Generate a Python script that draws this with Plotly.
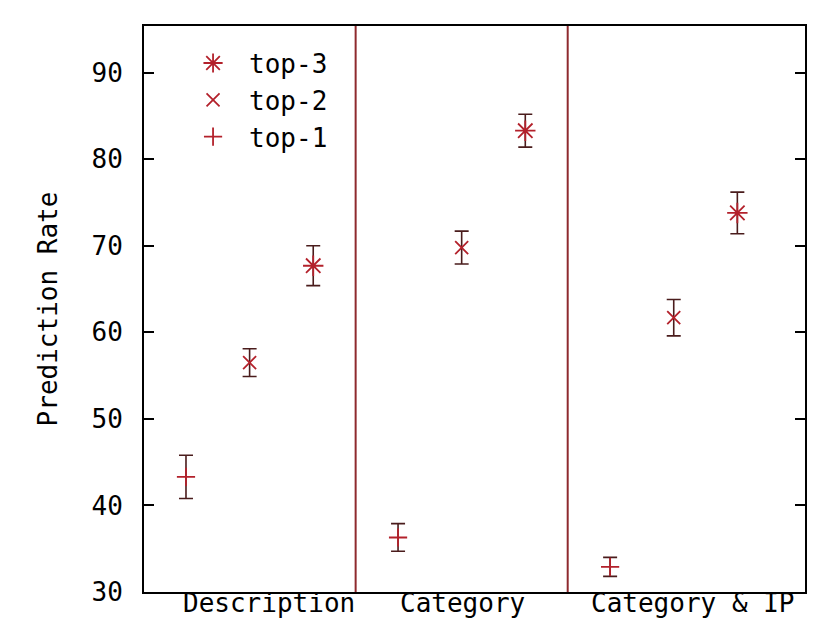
import plotly.graph_objects as go

groups = ["Description", "Category", "Category & IP"]
series = ["top-1", "top-2", "top-3"]
top1 = [43.3, 36.3, 32.9]
top1_err = [2.5, 1.6, 1.1]
top2 = [56.5, 69.8, 61.7]
top2_err = [1.6, 1.9, 2.1]
top3 = [67.7, 83.3, 73.8]
top3_err = [2.3, 1.9, 2.4]
y_ticks = [30, 40, 50, 60, 70, 80, 90]

values = [top1, top2, top3]
errors = [top1_err, top2_err, top3_err]
symbols = ["cross-thin-open", "x-thin-open", "asterisk-open"]
msizes = [13, 13, 17]

GROUP_STEP = 10 / 3
marker_color = "#b3212b"
err_color = "#4a1c1c"
sep_color = "#8e2a2e"
FONT = "DejaVu Sans Mono"
FS = 26
label_pos = [1.3, 4.35, 7.97]

fig = go.Figure()
for k, name in enumerate(series):
    xs = [g * GROUP_STEP + k for g in range(len(groups))]
    fig.add_trace(go.Scatter(
        x=xs, y=values[k], mode="markers", name=name,
        marker=dict(symbol=symbols[k], size=msizes[k], color=marker_color,
                    line=dict(width=1.8, color=marker_color)),
        error_y=dict(type="data", array=errors[k], visible=True,
                     color=err_color, thickness=1.6, width=7),
    ))

for g in range(1, len(groups)):
    fig.add_vline(x=g * GROUP_STEP - 2 / 3, line=dict(color=sep_color, width=2))

for xp, txt in zip(label_pos, groups):
    fig.add_annotation(x=xp, xref="x", y=0, yref="paper", text=txt,
                       showarrow=False, yanchor="middle", yshift=-11,
                       font=dict(family=FONT, size=FS, color="black"))

fig.update_layout(
    width=829, height=613,
    margin=dict(l=136, r=32, t=18, b=29, autoexpand=False),
    paper_bgcolor="white", plot_bgcolor="white",
    font=dict(family=FONT, size=FS, color="black"),
    showlegend=True,
    legend=dict(x=0.05, y=0.976, xanchor="left", yanchor="top",
                traceorder="reversed", bgcolor="rgba(0,0,0,0)",
                font=dict(family=FONT, size=FS), itemwidth=62,
                tracegroupgap=0),
)
fig.update_xaxes(
    range=[-0.66, 9.73], showgrid=False, zeroline=False,
    showticklabels=False, ticks="", automargin=False,
    showline=True, linecolor="black", linewidth=2, mirror=True,
)
fig.update_yaxes(
    range=[30, 95.4], showgrid=False, zeroline=False,
    tickmode="array", tickvals=y_ticks, automargin=False,
    ticks="inside", ticklen=10, tickwidth=2, tickcolor="black",
    showline=True, linecolor="black", linewidth=2, mirror="allticks",
    ticklabelstandoff=14,
    tickfont=dict(family=FONT, size=FS),
    title=dict(text="Prediction Rate", standoff=26,
               font=dict(family=FONT, size=FS)),
)

fig.write_html("out.html")
